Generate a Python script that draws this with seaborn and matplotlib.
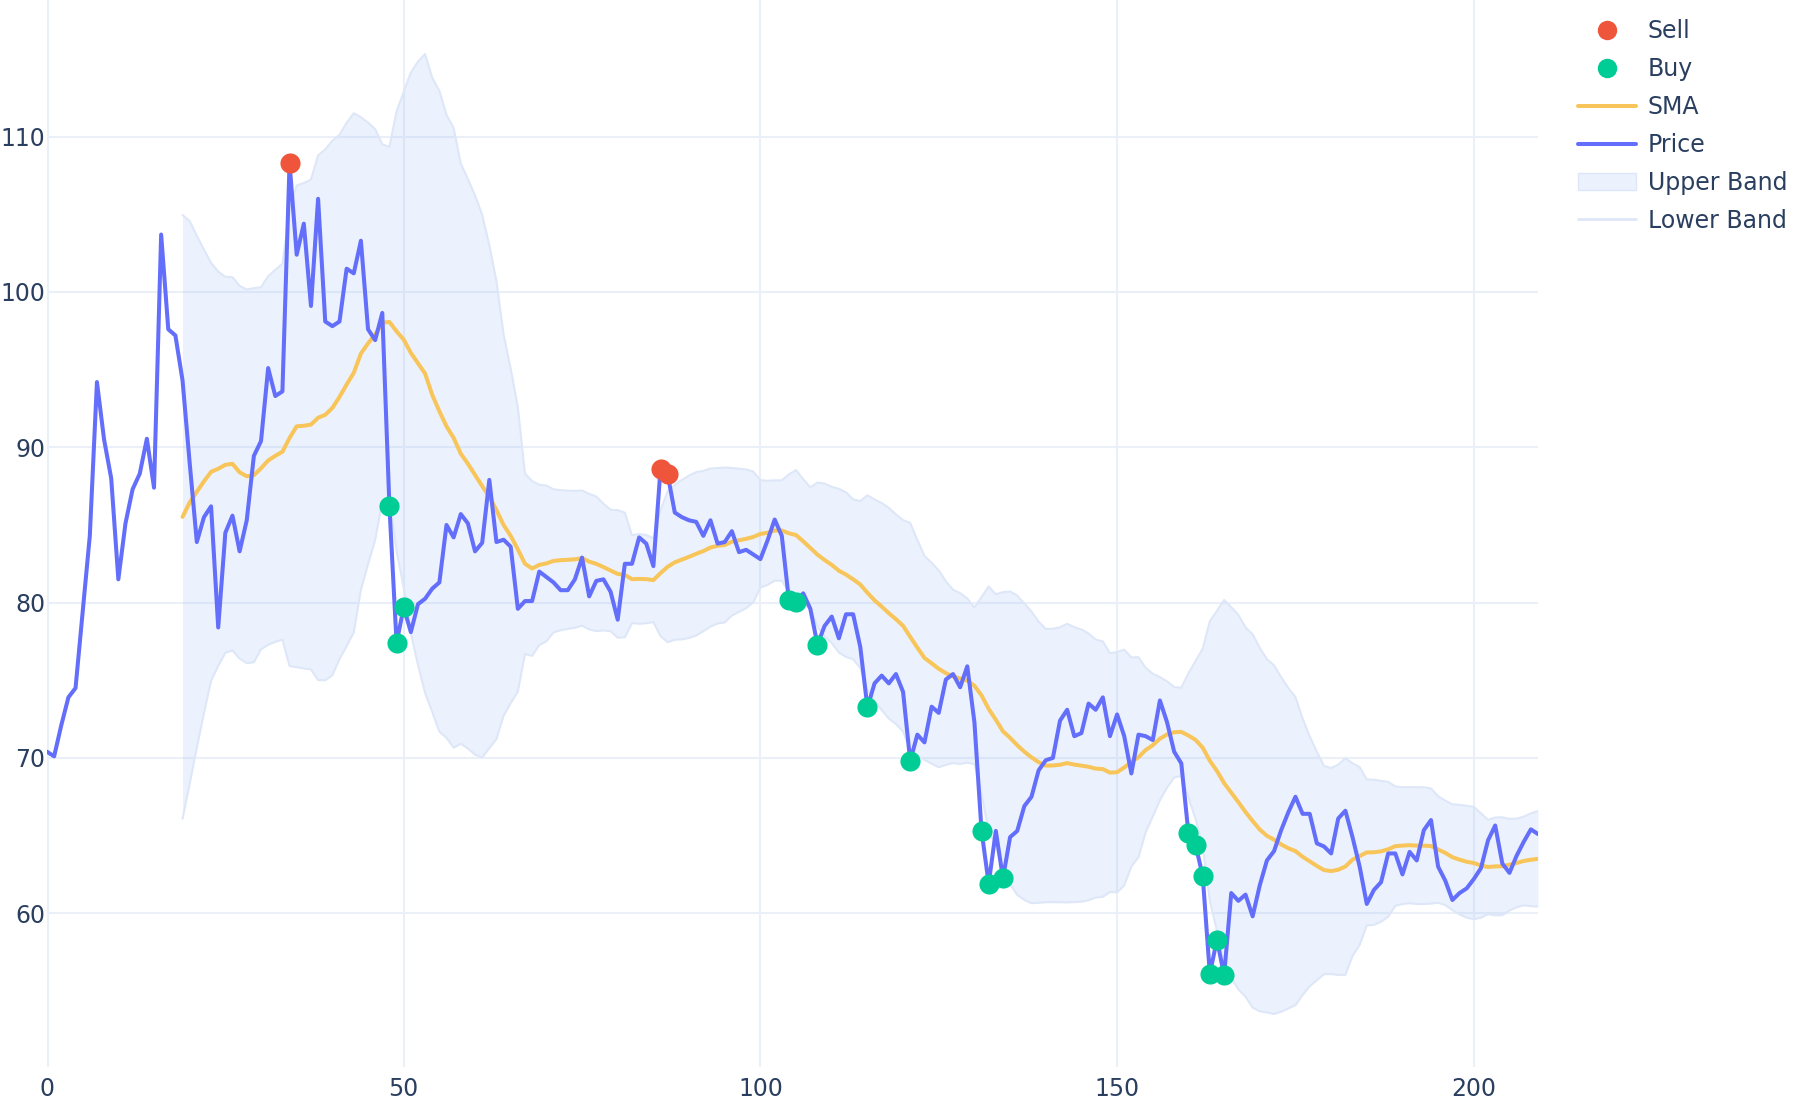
import numpy as np
import pandas as pd
import matplotlib
matplotlib.use("Agg")
import matplotlib.pyplot as plt
import seaborn as sns
from matplotlib.lines import Line2D
from matplotlib.patches import Patch

# ---------------- data ----------------
price = [
    70.4, 70.1, 72.1, 73.9, 74.5, 79.4, 84.3, 94.2, 90.5, 88.0,
    81.5, 85.1, 87.3, 88.3, 90.55, 87.4, 103.7, 97.6, 97.2, 94.3,
    89.0, 83.9, 85.5, 86.2, 78.4, 84.5, 85.6, 83.3, 85.3, 89.45,
    90.4, 95.1, 93.3, 93.6, 108.3, 102.4, 104.4, 99.1, 106.0, 98.1,
    97.8, 98.1, 101.5, 101.2, 103.3, 97.6, 96.9, 98.65, 86.2, 77.4,
    79.7, 78.1, 79.9, 80.25, 80.9, 81.3, 85.0, 84.2, 85.7, 85.1,
    83.3, 83.85, 87.9, 83.9, 84.05, 83.6, 79.6, 80.1, 80.1, 82.0,
    81.65, 81.3, 80.8, 80.8, 81.5, 82.9, 80.4, 81.4, 81.5, 80.7,
    78.9, 82.5, 82.5, 84.2, 83.8, 82.35, 88.6, 88.25, 85.8, 85.5,
    85.3, 85.2, 84.3, 85.3, 83.8, 83.9, 84.6, 83.25, 83.4, 83.1,
    82.8, 84.0, 85.35, 84.3, 80.15, 80.05, 80.6, 79.6, 77.3, 78.5,
    79.1, 77.7, 79.25, 79.25, 77.15, 73.25, 74.8, 75.3, 74.8, 75.4,
    74.25, 69.8, 71.5, 71.0, 73.3, 72.9, 75.05, 75.4, 74.55, 75.9,
    72.3, 65.3, 61.9, 65.3, 62.25, 64.9, 65.3, 66.9, 67.5, 69.2,
    69.85, 70.0, 72.4, 73.1, 71.4, 71.6, 73.5, 73.1, 73.9, 71.4,
    72.8, 71.4, 69.0, 71.5, 71.4, 71.15, 73.7, 72.3, 70.4, 69.65,
    65.15, 64.4, 62.4, 56.1, 58.3, 56.0, 61.3, 60.8, 61.2, 59.8,
    61.8, 63.4, 64.0, 65.35, 66.5, 67.5, 66.4, 66.4, 64.5, 64.3,
    63.85, 66.1, 66.6, 64.9, 63.0, 60.6, 61.5, 62.0, 63.85, 63.85,
    62.5, 63.95, 63.4, 65.35, 66.0, 63.0, 62.1, 60.85, 61.3, 61.6,
    62.2, 62.9, 64.7, 65.65, 63.2, 62.6, 63.7, 64.6, 65.4, 65.1,
]
sma_window = 20
band_width_std = 2
sell_idx = [34, 86, 87]
buy_idx = [48, 49, 50, 104, 105, 108, 115, 121, 131, 132, 134,
           160, 161, 162, 163, 164, 165]
x_ticks = [0, 50, 100, 150, 200]
y_ticks = [60, 70, 80, 90, 100, 110]
legend_labels = ["Sell", "Buy", "SMA", "Price", "Upper Band", "Lower Band"]

# ---------------- derived table ----------------
df = pd.DataFrame({"t": np.arange(len(price)), "price": price})
df["sma"] = df["price"].rolling(sma_window).mean()
roll_std = df["price"].rolling(sma_window).std()
df["upper"] = df["sma"] + band_width_std * roll_std
df["lower"] = df["sma"] - band_width_std * roll_std
sells = df.loc[sell_idx]
buys = df.loc[buy_idx]

# ---------------- style ----------------
C_PRICE = "#636EFA"
C_SMA = "#F8C55B"
C_SELL = "#EF553B"
C_BUY = "#00CC96"
C_GRID = "#EBF0F8"
C_TEXT = "#2A3F5F"
C_FILL = (0.39, 0.59, 0.94, 0.12)
C_BANDLINE = "#DEE7F8"

sns.set_theme(style="white")
plt.rcParams["font.family"] = ["DejaVu Sans"]

fig = plt.figure(figsize=(18, 11), dpi=100)
ax = fig.add_axes([47 / 1800, 33 / 1100, (1538 - 47) / 1800, 1067 / 1100])
ax.set_facecolor("white")

ax.set_xticks(x_ticks)
ax.set_yticks(y_ticks)
ax.grid(True, color=C_GRID, lw=1.5, zorder=0)
ax.set_axisbelow(True)
ax.axvline(0, color=C_GRID, lw=3, zorder=0.5)
for s in ax.spines.values():
    s.set_visible(False)

band = df.dropna()
ax.fill_between(band["t"], band["lower"], band["upper"], color=C_FILL, lw=0, zorder=1)
ax.plot(band["t"], band["upper"], color=C_BANDLINE, lw=1.5, zorder=1.2)
ax.plot(band["t"], band["lower"], color=C_BANDLINE, lw=1.5, zorder=1.2)

sns.lineplot(data=df, x="t", y="sma", color=C_SMA, lw=2.9, ax=ax, zorder=3)
sns.lineplot(data=df, x="t", y="price", color=C_PRICE, lw=2.9, ax=ax, zorder=4)
sns.scatterplot(data=sells, x="t", y="price", color=C_SELL, s=210, linewidth=0, ax=ax, zorder=5)
sns.scatterplot(data=buys, x="t", y="price", color=C_BUY, s=210, linewidth=0, ax=ax, zorder=5)

ax.set_xlim(0, 209)
ax.set_ylim(50.1, 118.8)
ax.set_xlabel("")
ax.set_ylabel("")
ax.tick_params(axis="both", length=0, labelsize=17, labelcolor=C_TEXT)
ax.tick_params(axis="y", pad=1)
ax.tick_params(axis="x", pad=7)

handles = [
    Line2D([], [], ls="", marker="o", ms=14, color=C_SELL, mec="none"),
    Line2D([], [], ls="", marker="o", ms=14, color=C_BUY, mec="none"),
    Line2D([], [], color=C_SMA, lw=2.9),
    Line2D([], [], color=C_PRICE, lw=2.9),
    Patch(facecolor=C_FILL, edgecolor=C_BANDLINE, lw=1.0),
    Line2D([], [], color=C_BANDLINE, lw=2.0),
]
fig.legend(handles, legend_labels, loc="upper left",
           bbox_to_anchor=(1578 / 1800, 1 - 19 / 1100),
           frameon=False, fontsize=17, labelcolor=C_TEXT,
           handlelength=2.45, handletextpad=0.5, labelspacing=0.59,
           borderpad=0, borderaxespad=0)

fig.savefig("out.png", dpi=100, facecolor="white")
